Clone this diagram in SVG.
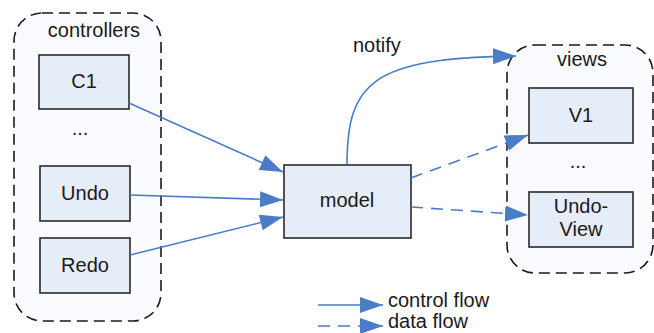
<svg xmlns="http://www.w3.org/2000/svg" width="654" height="333" viewBox="0 0 654 333">
<style>
.grp{fill:#f9fbfe;stroke:#1a1a1a;stroke-width:1.6;stroke-dasharray:11 6}
.box{fill:#e5edf8;stroke:#2a2a2a;stroke-width:1.6}
.t{font-family:"Liberation Sans",Arial,sans-serif;font-size:20px;fill:#1a1a1a}
.m{text-anchor:middle}
.c{fill:none;stroke:#4a7cc8;stroke-width:1.6}
.d{stroke-dasharray:12 8}
</style>
<defs>
<marker id="ah" markerUnits="userSpaceOnUse" markerWidth="24" markerHeight="17" refX="23" refY="8" orient="auto" viewBox="0 0 24 17">
<path d="M0,0 L23,8 L0,16 z" fill="#4a7cc8"/>
</marker>
</defs>
<rect width="654" height="333" fill="#ffffff"/>
<g id="controllers">
<rect class="grp" x="14" y="13" width="147" height="308" rx="28" ry="28"/>
<text class="t m" x="94" y="37">controllers</text>
<text class="t m" x="80" y="135">...</text>
</g>
<g id="C1"><rect class="box" x="39" y="55" width="90" height="54"/><text class="t m" x="84" y="88">C1</text></g>
<g id="Undo"><rect class="box" x="40" y="166" width="90" height="55"/><text class="t m" x="85" y="200">Undo</text></g>
<g id="Redo"><rect class="box" x="40" y="238" width="90" height="55"/><text class="t m" x="85" y="272">Redo</text></g>
<g id="views">
<rect class="grp" x="507" y="45" width="146" height="228" rx="28" ry="28"/>
<text class="t m" x="582" y="66">views</text>
<text class="t m" x="578" y="168">...</text>
</g>
<g id="V1"><rect class="box" x="529" y="88" width="104" height="55"/><text class="t m" x="581" y="122">V1</text></g>
<g id="UndoView"><rect class="box" x="529" y="192" width="104" height="55"/><text class="t m" x="581" y="213">Undo-</text><text class="t m" x="581" y="236">View</text></g>
<g id="model"><rect class="box" x="284" y="165" width="127" height="73"/><text class="t m" x="347" y="207">model</text></g>
<g id="connectors">
<line class="c" x1="129" y1="103" x2="283" y2="172" marker-end="url(#ah)"/>
<line class="c" x1="130" y1="195" x2="283" y2="200" marker-end="url(#ah)"/>
<line class="c" x1="130" y1="255" x2="283" y2="217" marker-end="url(#ah)"/>
<path class="c" d="M347,165 C347,82 372,58 516,56" marker-end="url(#ah)"/>
<text class="t" x="353" y="52">notify</text>
<line class="c d" x1="411" y1="178" x2="528" y2="135" marker-end="url(#ah)"/>
<line class="c d" x1="411" y1="207" x2="528" y2="215" marker-end="url(#ah)"/>
</g>
<g id="legend">
<line class="c" x1="318" y1="305" x2="383" y2="305" marker-end="url(#ah)"/>
<text class="t" x="388" y="307">control flow</text>
<line class="c d" x1="318" y1="326" x2="383" y2="326" marker-end="url(#ah)"/>
<text class="t" x="388" y="328">data flow</text>
</g>
</svg>
